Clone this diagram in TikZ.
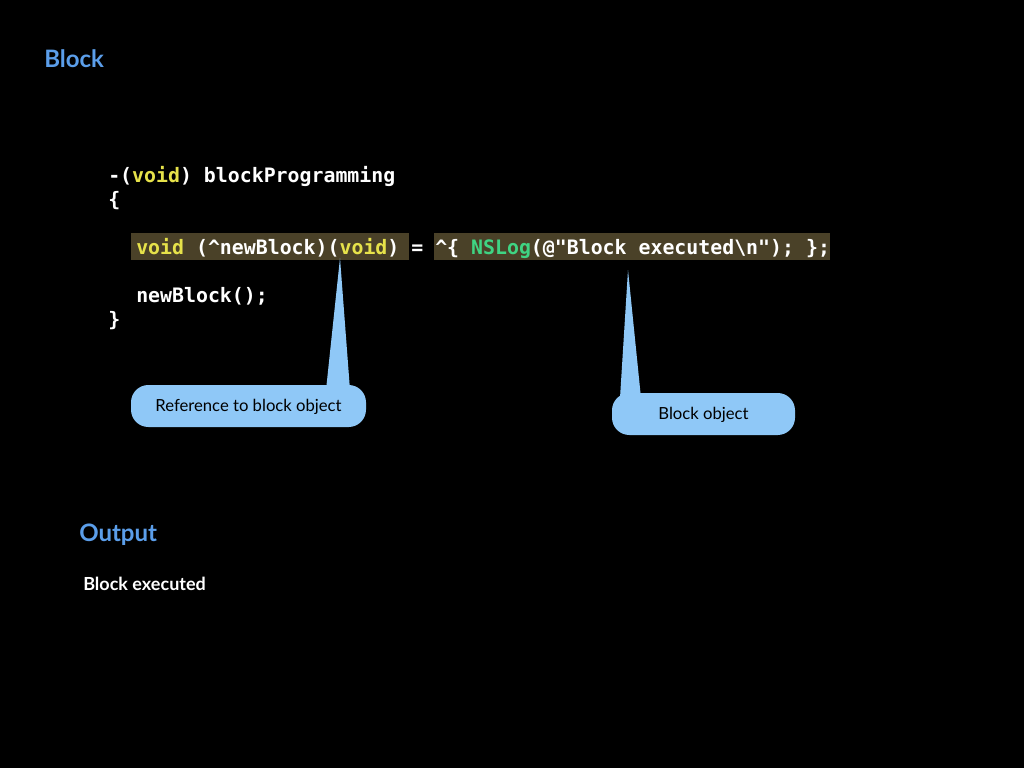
\documentclass[tikz,border=0pt]{standalone}
\usepackage{fontspec}
\setmainfont{DejaVu Sans}
\newfontfamily\codef{DejaVu Sans Mono}
\newfontfamily\labf{Lato}
\definecolor{hl}{HTML}{4A4128}
\definecolor{kw}{HTML}{E6E24A}
\definecolor{fn}{HTML}{3FD483}
\definecolor{ttl}{HTML}{5B9EEA}
\definecolor{cal}{HTML}{8FC8F7}
\tikzset{
 code/.style={anchor=base west,inner sep=0pt,text=white,font=\codef\bfseries\fontsize{14.9}{18}\selectfont},
 hlbox/.style={fill=hl,draw=none},
 callout/.style={fill=cal,draw=none,rounded corners=13pt},
 calltext/.style={font=\labf\fontsize{12.5}{15}\selectfont,text=black},
 title/.style={anchor=base west,inner sep=0pt,text=ttl,font=\labf\bfseries\fontsize{18}{21}\selectfont}
}
\begin{document}
\begin{tikzpicture}[x=0.75pt,y=-0.75pt]
\fill[black] (0,0) rectangle (1024,768);
\useasboundingbox (0,0) rectangle (1024,768);
\node[title] (t1) at (44,67) {Block};
\fill[hlbox] (131,233) rectangle (409,260);
\fill[hlbox] (434,233) rectangle (830,260);
\node[code] (l1) at (108,182) {-(\textcolor{kw}{void}) blockProgramming};
\node[code] (l2) at (108,206) {\{};
\node[code] (l3) at (136,254) {\textcolor{kw}{void} (\string^newBlock)(\textcolor{kw}{void}) = \string^\{ \textcolor{fn}{NSLog}(@"Block executed\string\n"); \};};
\node[code] (l4) at (136,302) {newBlock();};
\node[code] (l5) at (108,326) {\}};
\fill[cal] (340,258) -- (350,390) -- (326,390) -- cycle;
\fill[callout] (131,385) rectangle (366,427);
\node[calltext] (c1) at (248.5,407) {Reference to block object};
\fill[cal] (628,270) -- (641,398) -- (620,398) -- cycle;
\fill[callout] (612,393) rectangle (795,435);
\node[calltext] (c2) at (703.5,415) {Block object};
\node[title] (t2) at (79,541) {Output};
\node[anchor=base west,inner sep=0pt,text=white,font=\labf\bfseries\fontsize{13.5}{16}\selectfont] (o) at (83,590) {Block executed};
\end{tikzpicture}
\end{document}
